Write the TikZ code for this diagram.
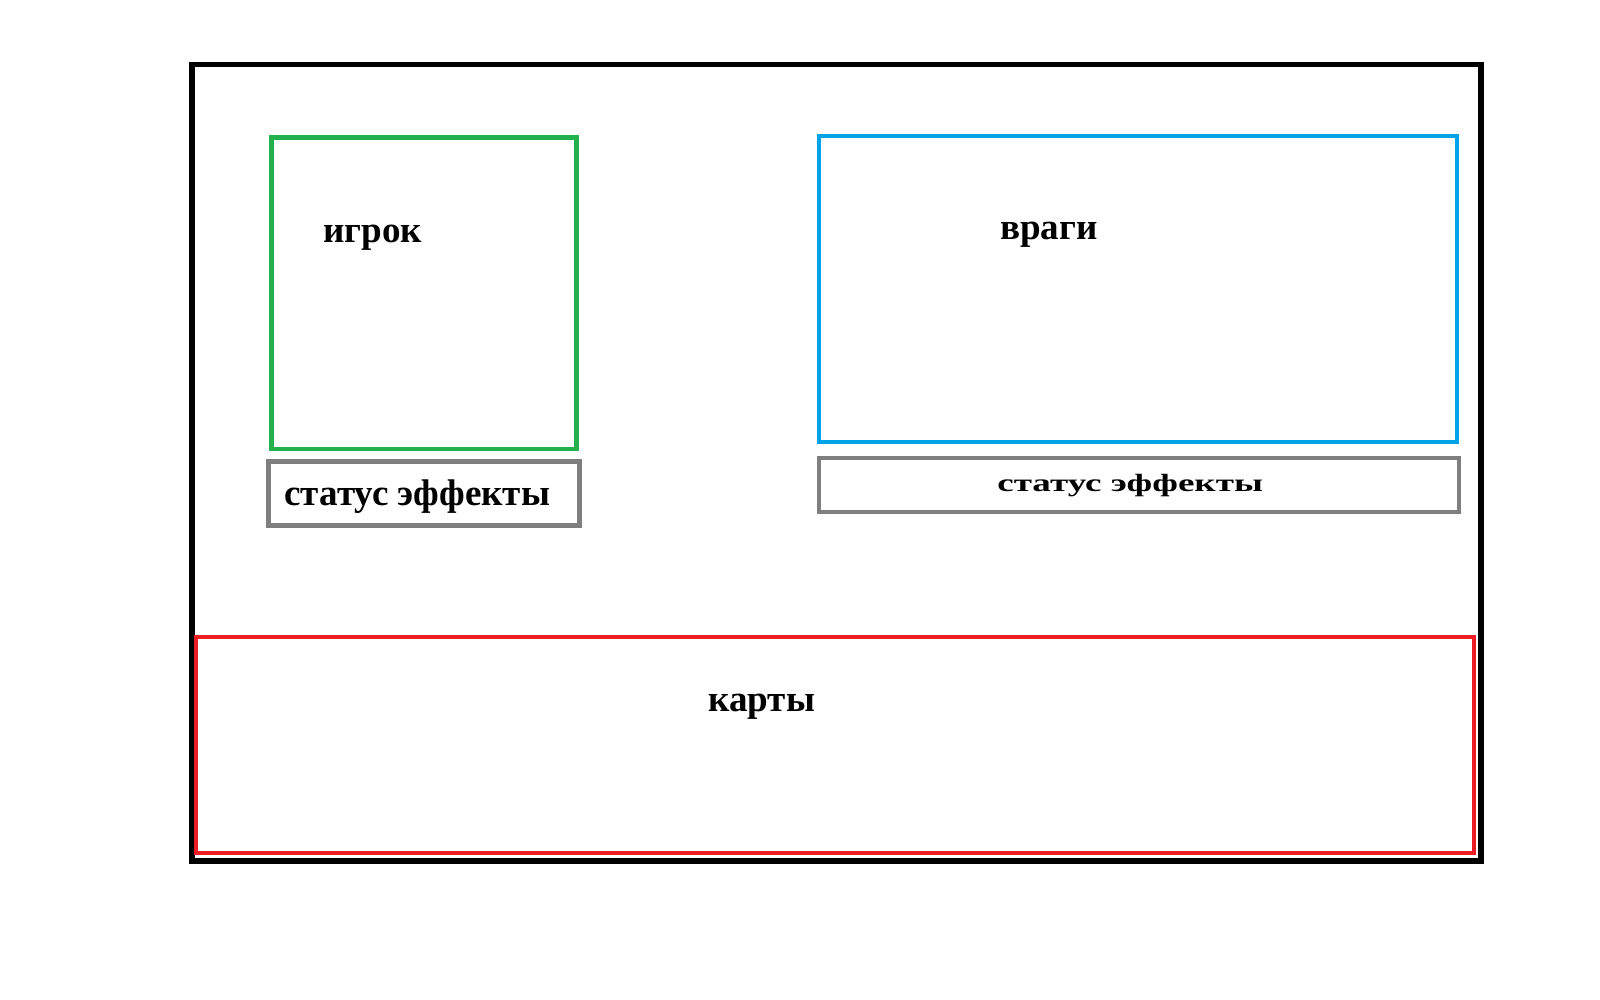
\documentclass[tikz,border=0pt]{standalone}
\usepackage{fontspec}
\setmainfont{Liberation Serif}
\usepackage{tikz}
\usetikzlibrary{positioning}
\definecolor{paintgreen}{HTML}{22B14C}
\definecolor{paintblue}{HTML}{00A2E8}
\definecolor{paintred}{HTML}{ED1C24}
\definecolor{paintgray}{HTML}{7F7F7F}

\begin{document}
\begin{tikzpicture}[x=0.02cm, y=-0.02cm,
        frame/.style={line width=2.7pt},
        label text/.style={anchor=base west, inner sep=0pt,
            font=\fontsize{21.1}{26}\selectfont\bfseries}]
        \useasboundingbox (0,0) rectangle (1600,1000);

        % window
        \draw[frame, line width=2.9pt, black] (192,64.5) rectangle (1481,861);

        % player
        \draw[frame, paintgreen] (271.5,137.5) rectangle (576.5,449);
        \node (player) [label text] at (323,243) {игрок};
        \draw[frame, paintgray] (268.5,461.5) rectangle (579.5,525.5);
        \node (playerstatus) [label text] at (284,505) {статус эффекты};

        % enemies
        \draw[frame, line width=2.4pt, paintblue] (819,136) rectangle (1457,442);
        \node (enemies) [label text] at (1000,240) {враги};
        \draw[frame, paintgray] (819,458) rectangle (1459,512);
        \node (enemystatus) [label text, yscale=0.67] at (997,491) {статус эффекты};

        % cards
        \draw[frame, paintred] (196,637) rectangle (1474,853);
        \node (cards) [label text] at (708,711) {карты};
\end{tikzpicture}
\end{document}
